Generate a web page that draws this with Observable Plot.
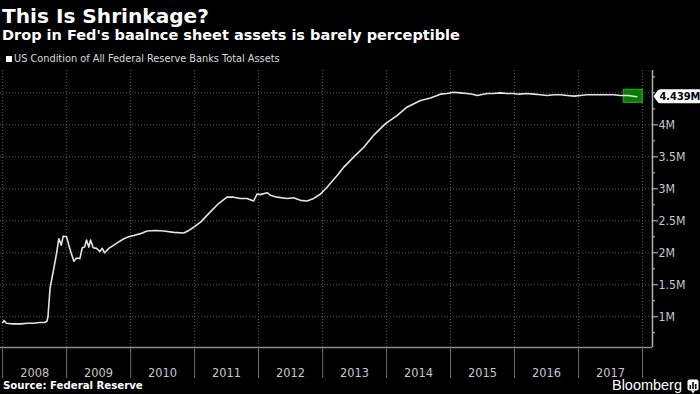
<!DOCTYPE html>
<html><head><meta charset="utf-8">
<script src="https://cdn.jsdelivr.net/npm/d3@7"></script>
<script src="https://cdn.jsdelivr.net/npm/@observablehq/plot@0.6"></script>
<style>
html,body{margin:0;padding:0;background:#000;}
#wrap{position:relative;width:700px;height:394px;background:#000;overflow:hidden;}
.t{position:absolute;white-space:nowrap;line-height:1;margin:0;}
#chart{position:absolute;left:0;top:0;}
</style></head><body><div id="wrap"><div id="chart"></div></div>
<script>
// ---- data ----
const title = "This Is Shrinkage?";
const subtitle = "Drop in Fed's baalnce sheet assets is barely perceptible";
const seriesName = "US Condition of All Federal Reserve Banks Total Assets";
const sourceText = "Source: Federal Reserve";
const brandText = "Bloomberg";

const dates = [
 "2008-01-02","2008-01-09","2008-01-23","2008-02-20","2008-03-19","2008-04-16","2008-05-21","2008-06-25","2008-07-30","2008-08-27","2008-09-10",
 "2008-09-16","2008-09-28","2008-10-19","2008-11-04","2008-11-17","2008-12-01","2008-12-12","2008-12-31",
 "2009-01-13","2009-01-27","2009-02-11","2009-02-26","2009-03-17","2009-03-31","2009-04-13","2009-04-24","2009-05-07","2009-05-17",
 "2009-06-01","2009-06-20","2009-07-09","2009-07-23","2009-08-05","2009-08-29","2009-09-27","2009-10-25","2009-11-23","2009-12-21",
 "2010-01-19","2010-02-26","2010-04-05","2010-05-23","2010-07-09","2010-09-04","2010-10-31","2010-11-29","2010-12-27",
 "2011-02-04","2011-04-01","2011-05-18","2011-07-05","2011-08-12","2011-09-19","2011-10-27","2011-12-04","2011-12-24",
 "2012-01-11","2012-02-19","2012-03-08","2012-04-16","2012-06-12","2012-07-19","2012-08-27","2012-10-04","2012-11-11","2012-12-20",
 "2013-01-27","2013-03-25","2013-05-02","2013-06-28","2013-08-24","2013-10-20","2013-12-26",
 "2014-03-03","2014-04-29","2014-07-14","2014-09-09","2014-11-04","2014-12-10",
 "2015-01-19","2015-02-25","2015-04-06","2015-05-06","2015-06-02","2015-07-29","2015-09-02","2015-10-13","2015-11-18","2015-12-28",
 "2016-01-27","2016-03-13","2016-04-20","2016-05-28","2016-07-06","2016-08-13","2016-09-21","2016-10-28","2016-12-07",
 "2017-01-12","2017-02-15","2017-03-28","2017-05-03","2017-06-13","2017-07-19","2017-08-28","2017-10-11","2017-11-29"
];
const values = [
 0.91,0.94,0.90,0.89,0.89,0.89,0.90,0.90,0.91,0.91,0.93,
 1.00,1.45,1.75,1.99,2.22,2.12,2.26,2.25,
 2.12,1.99,1.87,1.92,1.91,2.08,2.09,2.20,2.09,2.20,
 2.08,2.07,2.02,2.07,2.00,2.07,2.12,2.17,2.22,2.25,
 2.27,2.30,2.34,2.35,2.34,2.32,2.31,2.35,2.40,
 2.48,2.64,2.77,2.87,2.87,2.85,2.85,2.81,2.92,
 2.91,2.94,2.90,2.87,2.85,2.86,2.82,2.81,2.85,2.92,
 3.03,3.21,3.34,3.50,3.65,3.84,4.02,
 4.15,4.28,4.38,4.42,4.48,4.49,
 4.51,4.50,4.49,4.48,4.46,4.49,4.49,4.50,4.49,4.49,
 4.48,4.49,4.48,4.47,4.46,4.47,4.47,4.46,4.45,
 4.46,4.47,4.47,4.47,4.47,4.47,4.46,4.46,4.439
];
const years = [2008,2009,2010,2011,2012,2013,2014,2015,2016,2017];
const yTickValues = [1,1.5,2,2.5,3,3.5,4];
const yMinorValues = [0.75,1.25,1.75,2.25,2.75,3.25,3.75,4.25,4.5,4.75];
const yGridValues = [1,1.5,2,2.5,3,3.5,4,4.5];
const xDomain = [new Date("2007-12-20"), new Date("2018-02-27")];
const yDomain = [0.52, 4.85];

// ---- fonts ----
const cv = document.createElement("canvas").getContext("2d");
function has(f){
  const s = "abcdefghijklmnopqrstuvwxyzABCDEFGH0123456789";
  cv.font = `40px "${f}", monospace`; const b = cv.measureText(s).width;
  cv.font = `40px "${f}", serif`; const d = cv.measureText(s).width;
  return Math.abs(b - d) < 0.01;
}
const narrowName = ["Liberation Sans Narrow","DejaVu Sans Condensed","Liberation Sans"].find(has) || "Liberation Sans";
const narrow = `"${narrowName}", sans-serif`;
const boldName = has("DejaVu Sans") ? "DejaVu Sans" : "Liberation Sans";
const boldFam = `"${boldName}", sans-serif`;
function fit(text, width, fam, weight){
  cv.font = `${weight} 100px ${fam}`;
  return 100 * width / cv.measureText(text).width;
}

const data = dates.map((d, i) => ({date: new Date(d), value: values[i]}));
const last = data[data.length - 1];
const yearStarts = d3.range(years[0], years[years.length-1] + 2).map(y => new Date(Date.UTC(y, 0, 1)));
const yearMids = years.map(y => new Date(Date.UTC(y, 6, 2)));

const yearFs = fit("2008", 29, narrow, "normal");
const axisFs = fit("3.5M", 27, narrow, "normal");
const valueFs = Math.min(14, fit("4.439M", 41, narrow, "bold"));

const tag = {draw(ctx){
  ctx.moveTo(1, -0.5);
  ctx.lineTo(5, -6);
  ctx.quadraticCurveTo(6, -7.5, 8, -7.5);
  ctx.lineTo(70, -7.5);
  ctx.lineTo(70, 6.5);
  ctx.lineTo(8, 6.5);
  ctx.quadraticCurveTo(6, 6.5, 5, 5);
  ctx.closePath();
}};

const chart = Plot.plot({
  width: 700, height: 394,
  marginLeft: 0, marginRight: 48, marginTop: 70, marginBottom: 47,
  style: {background: "transparent", color: "#c8c8c8", fontFamily: narrow},
  x: {type: "utc", domain: xDomain, label: null},
  y: {domain: yDomain, label: null},
  marks: [
    Plot.ruleY(yGridValues, {stroke: "#5a5a5a", strokeDasharray: "1,2"}),
    Plot.ruleX(yearStarts, {stroke: "#5a5a5a", strokeDasharray: "1,2"}),
    Plot.ruleY([yDomain[0]], {stroke: "#8c8c8c", strokeWidth: 1.5}),
    Plot.ruleX([xDomain[1]], {stroke: "#b0b0b0", strokeWidth: 1.5}),
    Plot.axisX({ticks: yearStarts, tickSize: 31, tickFormat: () => "", stroke: "#707070", label: null}),
    Plot.axisX({ticks: yearMids, tickSize: 0, tickPadding: 29 - 0.71 * yearFs, label: null,
      tickFormat: d => String(d.getUTCFullYear()), fontSize: yearFs, fill: "#c8c8c8"}),
    Plot.axisY({anchor: "right", ticks: yTickValues, tickSize: 5, tickPadding: 1, label: null,
      tickFormat: d => d + "M", fontSize: axisFs, fill: "#c8c8c8", stroke: "#c8c8c8"}),
    Plot.axisY({anchor: "right", ticks: yMinorValues, tickSize: 2, tickFormat: () => "", stroke: "#c8c8c8", label: null}),
    Plot.rect([last], {x1: "date", x2: "date", y1: "value", y2: "value",
      insetLeft: -13, insetRight: -6, insetTop: -7, insetBottom: -6,
      fill: "#087a08", stroke: "#20b820", strokeWidth: 1}),
    Plot.line(data, {x: "date", y: "value", stroke: "#e4e4e4", strokeWidth: 1.6}),
    Plot.dot([last], {y: "value", frameAnchor: "right", symbol: tag, fill: "#ffffff", stroke: "none"}),
    Plot.text([last], {y: "value", frameAnchor: "right", dx: 7, textAnchor: "start",
      text: d => d.value.toFixed(3) + "M", fill: "#000", fontWeight: "bold", fontSize: valueFs, fontFamily: narrow})
  ]
});
document.getElementById("chart").appendChild(chart);

// ---- titles, legend, footer ----
const wrap = document.getElementById("wrap");
function addText(txt, left, baseline, fs, fam, weight, color){
  const el = document.createElement("div");
  el.className = "t";
  el.textContent = txt;
  el.style.left = left + "px";
  el.style.top = (baseline - 0.846 * fs) + "px";
  el.style.fontSize = fs + "px";
  el.style.fontFamily = fam;
  el.style.fontWeight = weight;
  el.style.color = color;
  wrap.appendChild(el);
  return el;
}
addText(title, 2, 23, fit(title, 207, boldFam, "bold"), boldFam, "bold", "#ffffff");
addText(subtitle, 2, 40, fit(subtitle, 458, boldFam, "bold"), boldFam, "bold", "#ffffff");
const sq = document.createElement("div");
sq.style.cssText = "position:absolute;left:6px;top:55.5px;width:6px;height:6px;background:#fff;";
wrap.appendChild(sq);
addText(seriesName, 14, 63, fit(seriesName, 266, narrow, "normal"), narrow, "normal", "#dcdcdc");
addText(sourceText, 3, 390, fit(sourceText, 140, narrow, "bold"), narrow, "bold", "#ffffff");
const brandFam = `"Liberation Sans", Arial, sans-serif`;
addText(brandText, 612, 390, fit(brandText, 70, brandFam, "normal"), brandFam, "normal", "#ffffff");
const icon = document.createElementNS("http://www.w3.org/2000/svg", "svg");
icon.setAttribute("width", "12"); icon.setAttribute("height", "15");
icon.style.cssText = "position:absolute;left:687px;top:379px;";
icon.innerHTML = '<rect x="0.5" y="0.5" width="11" height="11" rx="2" fill="#fff"/><path d="M4,11.5 L6,14.5 L8,11.5 Z" fill="#fff"/>' +
  '<rect x="2.5" y="6" width="1.6" height="4" fill="#000"/><rect x="5.2" y="3" width="1.6" height="7" fill="#000"/><rect x="7.9" y="5" width="1.6" height="5" fill="#000"/>';
wrap.appendChild(icon);
</script></body></html>
